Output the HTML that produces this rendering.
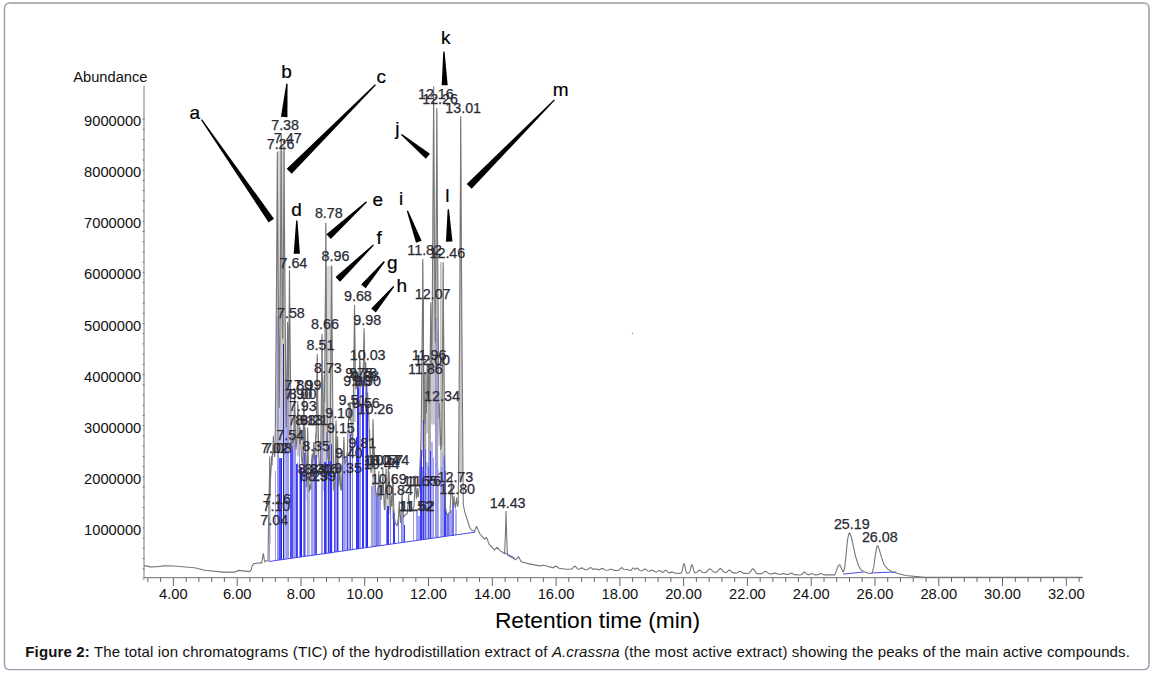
<!DOCTYPE html>
<html><head><meta charset="utf-8"><style>
html,body{margin:0;padding:0;background:#fff;}
svg{display:block}
text{font-family:"Liberation Sans",sans-serif;}
.ax{font-size:14.7px;fill:#111}
.big{font-size:22.8px;fill:#000}
.cap{font-size:15px;fill:#111;letter-spacing:0.135px}
.pl{font-size:14.3px;fill:#2a2a34;stroke:#2a2a34;stroke-width:0.25px}
.lt{font-size:19px;fill:#000;stroke:#000;stroke-width:0.2px}
</style></head><body>
<svg width="1154" height="676" viewBox="0 0 1154 676">
<path d="M9.5,3 H1144 A5,5 0 0 1 1149,8 V664.6" fill="none" stroke="#b3b3b3" stroke-width="2"/>
<path d="M1149,664.6 A5,5 0 0 1 1144,669.6 H9.5 A5,5 0 0 1 4.5,664.6 V8 A5,5 0 0 1 9.5,3" fill="none" stroke="#9a9cab" stroke-width="1.4"/>
<rect x="277.6" y="151" width="6.8" height="170" fill="#d6d6d6"/>
<path d="M268.42,543.4L269.21,460.0L270.21,460.0L271.00,543.4ZM275.41,451.7L276.86,155.0L277.86,155.0L279.32,451.7ZM279.23,450.8L280.69,136.0L281.69,136.0L283.14,450.8ZM282.10,450.2L283.56,149.0L284.56,149.0L286.01,450.2ZM286.14,450.5L287.07,325.0L288.07,325.0L288.99,450.5ZM287.90,450.9L288.98,274.0L289.98,274.0L291.06,450.9ZM293.38,451.9L294.08,396.0L295.08,396.0L295.79,451.9ZM296.58,455.3L297.27,405.0L298.27,405.0L298.96,455.3ZM297.57,456.5L298.23,417.0L299.23,417.0L299.88,456.5ZM302.53,482.5L303.33,396.0L304.33,396.0L305.13,482.5ZM303.89,490.4L304.61,431.0L305.61,431.0L306.32,490.4ZM306.41,500.0L307.16,431.0L308.16,431.0L308.90,500.0ZM315.88,457.3L316.72,357.0L317.72,357.0L318.57,457.3ZM320.53,480.0L321.51,337.0L322.51,337.0L323.49,480.0ZM322.86,491.2L323.74,379.0L324.74,379.0L325.62,491.2ZM323.95,499.2L325.33,225.0L326.33,225.0L327.72,499.2ZM329.88,479.4L331.07,268.0L332.07,268.0L333.27,479.4ZM334.79,494.1L335.54,424.0L336.54,424.0L337.29,494.1ZM336.42,497.3L337.13,440.0L338.13,440.0L338.84,497.3ZM353.15,422.0L354.04,308.0L355.04,308.0L355.92,422.0ZM362.90,387.4L363.60,332.0L364.60,332.0L365.31,387.4ZM371.80,486.8L372.53,423.0L373.53,423.0L374.26,486.8ZM384.95,511.1L385.61,472.0L386.61,472.0L387.26,511.1ZM387.18,513.3L387.84,472.0L388.84,472.0L389.50,513.3ZM421.14,456.7L422.28,263.0L423.28,263.0L424.42,456.7ZM422.82,447.1L423.56,381.0L424.56,381.0L425.29,447.1ZM426.00,433.6L426.74,366.0L427.74,366.0L428.49,433.6ZM427.31,429.9L428.02,372.0L429.02,372.0L429.73,429.9ZM429.35,423.6L430.25,306.0L431.25,306.0L432.15,423.6ZM431.67,424.6L433.12,89.0L434.12,89.0L435.58,424.6ZM434.86,433.7L436.31,111.0L437.31,111.0L438.77,433.7ZM438.21,445.4L438.86,407.0L439.86,407.0L440.51,445.4ZM441.45,491.9L442.69,266.0L443.69,266.0L444.93,491.9ZM458.77,480.2L460.23,119.5L461.23,119.5L462.68,480.2ZM387.97,514.1L388.62,475.1L389.62,475.1L390.28,514.1ZM368.42,469.6L369.06,433.2L370.06,433.2L370.71,469.6ZM428.64,426.3L429.29,387.4L430.29,387.4L430.94,426.3ZM391.73,519.3L392.39,478.6L393.39,478.6L394.05,519.3ZM342.73,476.8L343.37,440.5L344.37,440.5L345.02,476.8ZM373.05,488.8L373.70,452.2L374.70,452.2L375.35,488.8ZM336.57,497.4L337.22,460.7L338.22,460.7L338.86,497.4Z" fill="#c8c8c8"/>
<rect x="423" y="300" width="1" height="239.6" fill="#7a7a7a"/><rect x="423.8" y="372" width="2.4" height="167.5" fill="#a2a2a2"/><rect x="428" y="366" width="3" height="172.9" fill="#aaaaaa"/><rect x="436.6" y="330" width="1.5" height="207.7" fill="#a8a8a8"/><rect x="440.4" y="262" width="1" height="275.1" fill="#9a9a9a"/><rect x="325.4" y="266" width="7.4" height="287.5" fill="#d6d6d6"/>
<g shape-rendering="crispEdges"><rect x="268.8" y="516.9" width="1.0" height="44.6" fill="#9c9ce8"/><rect x="274.5" y="471.0" width="1.5" height="89.7" fill="#9c9ce8"/><rect x="278.0" y="373.6" width="1.0" height="186.6" fill="#a0a0ee"/><rect x="279.0" y="457.8" width="2.0" height="102.3" fill="#5050f8"/><rect x="281.0" y="458.2" width="1.0" height="101.6" fill="#2424e6"/><rect x="283.0" y="387.8" width="1.0" height="171.7" fill="#b4b4f0"/><rect x="284.0" y="382.3" width="2.0" height="177.1" fill="#b4b4f0"/><rect x="286.0" y="377.5" width="2.0" height="181.6" fill="#a0a0ee"/><rect x="290.0" y="442.3" width="1.0" height="116.2" fill="#5050f8"/><rect x="291.0" y="446.1" width="2.0" height="112.2" fill="#5050f8"/><rect x="293.0" y="440.2" width="1.0" height="117.8" fill="#a0a0ee"/><rect x="294.0" y="398.1" width="1.0" height="159.8" fill="#a0a0ee"/><rect x="295.0" y="434.3" width="1.0" height="123.5" fill="#a0a0ee"/><rect x="296.0" y="463.8" width="1.0" height="93.9" fill="#3535ff"/><rect x="297.0" y="463.2" width="1.0" height="94.3" fill="#5050f8"/><rect x="299.0" y="440.7" width="1.0" height="116.6" fill="#9c9ce8"/><rect x="300.0" y="466.5" width="2.0" height="90.6" fill="#2424e6"/><rect x="303.0" y="427.9" width="1.0" height="128.8" fill="#8484e8"/><rect x="304.0" y="453.1" width="1.0" height="103.4" fill="#5050f8"/><rect x="305.0" y="449.6" width="1.0" height="106.8" fill="#a0a0ee"/><rect x="307.0" y="439.2" width="1.0" height="116.9" fill="#a0a0ee"/><rect x="308.0" y="473.8" width="1.0" height="82.1" fill="#b4b4f0"/><rect x="309.0" y="490.7" width="1.0" height="65.1" fill="#b4b4f0"/><rect x="311.0" y="457.6" width="2.0" height="97.9" fill="#9c9ce8"/><rect x="313.0" y="448.1" width="1.0" height="107.1" fill="#b4b4f0"/><rect x="314.0" y="459.3" width="1.0" height="95.8" fill="#8484e8"/><rect x="315.0" y="455.0" width="2.0" height="99.9" fill="#5050f8"/><rect x="321.0" y="440.5" width="1.0" height="113.6" fill="#a0a0ee"/><rect x="322.0" y="430.5" width="1.0" height="123.4" fill="#a0a0ee"/><rect x="324.0" y="461.7" width="2.0" height="92.0" fill="#3535ff"/><rect x="326.0" y="432.0" width="1.0" height="121.3" fill="#8484e8"/><rect x="328.0" y="460.8" width="1.0" height="92.3" fill="#3535ff"/><rect x="329.0" y="456.1" width="1.0" height="96.8" fill="#8484e8"/><rect x="330.0" y="460.9" width="1.0" height="91.9" fill="#3535ff"/><rect x="331.0" y="444.0" width="1.0" height="108.6" fill="#3535ff"/><rect x="334.0" y="491.0" width="1.0" height="61.2" fill="#5050f8"/><rect x="335.0" y="453.2" width="1.0" height="98.9" fill="#8484e8"/><rect x="336.0" y="476.5" width="1.0" height="75.4" fill="#a0a0ee"/><rect x="337.0" y="465.4" width="1.0" height="86.4" fill="#3535ff"/><rect x="338.0" y="477.2" width="1.0" height="74.5" fill="#9c9ce8"/><rect x="339.0" y="479.7" width="0.3" height="71.8" fill="#5050f8"/><rect x="342.4" y="457.4" width="1.0" height="93.6" fill="#4848f8"/><rect x="343.4" y="453.5" width="1.0" height="97.4" fill="#a0a0ee"/><rect x="344.4" y="463.7" width="1.0" height="87.1" fill="#9c9ce8"/><rect x="345.4" y="458.8" width="2.0" height="91.8" fill="#b4b4f0"/><rect x="347.4" y="455.7" width="1.0" height="94.6" fill="#4848f8"/><rect x="348.4" y="462.4" width="0.6" height="87.8" fill="#b4b4f0"/><rect x="349.0" y="428.2" width="1.0" height="121.9" fill="#9c9ce8"/><rect x="350.0" y="434.1" width="1.0" height="115.8" fill="#4848f8"/><rect x="352.0" y="444.1" width="1.0" height="105.6" fill="#8484e8"/><rect x="356.0" y="436.7" width="1.0" height="112.4" fill="#3535ff"/><rect x="357.0" y="384.9" width="2.0" height="164.1" fill="#3030ff"/><rect x="359.0" y="373.4" width="2.0" height="175.3" fill="#9c9ce8"/><rect x="362.0" y="380.1" width="2.0" height="168.2" fill="#3030ff"/><rect x="365.0" y="381.4" width="1.0" height="166.5" fill="#9c9ce8"/><rect x="366.0" y="379.7" width="1.0" height="168.0" fill="#3030ff"/><rect x="367.0" y="405.4" width="0.5" height="142.2" fill="#2424e6"/><rect x="367.5" y="421.8" width="0.8" height="125.6" fill="#b4b4f0"/><rect x="371.4" y="485.9" width="2.0" height="61.0" fill="#9c9ce8"/><rect x="373.4" y="473.7" width="1.0" height="72.9" fill="#b4b4f0"/><rect x="374.4" y="485.2" width="2.0" height="61.3" fill="#9c9ce8"/><rect x="376.4" y="494.9" width="1.0" height="51.3" fill="#7070ea"/><rect x="377.4" y="487.5" width="2.0" height="58.6" fill="#8484e8"/><rect x="379.4" y="484.0" width="1.0" height="61.8" fill="#9c9ce8"/><rect x="380.4" y="492.2" width="0.3" height="53.4" fill="#9c9ce8"/><rect x="385.5" y="510.8" width="1.0" height="34.2" fill="#8484e8"/><rect x="386.5" y="506.1" width="2.0" height="38.7" fill="#3535ff"/><rect x="389.5" y="501.4" width="1.0" height="42.9" fill="#8484e8"/><rect x="392.5" y="509.6" width="1.0" height="34.3" fill="#3535ff"/><rect x="393.5" y="512.5" width="1.0" height="31.3" fill="#3535ff"/><rect x="395.5" y="523.8" width="0.8" height="19.7" fill="#4848f8"/><rect x="398.0" y="519.4" width="1.0" height="23.7" fill="#8484e8"/><rect x="400.5" y="516.2" width="1.0" height="26.6" fill="#8484e8"/><rect x="401.5" y="509.0" width="2.0" height="33.7" fill="#a0a0ee"/><rect x="403.5" y="525.1" width="1.0" height="17.3" fill="#3535ff"/><rect x="413.0" y="507.5" width="1.0" height="33.5" fill="#9c9ce8"/><rect x="416.0" y="511.2" width="2.0" height="29.4" fill="#a0a0ee"/><rect x="418.0" y="515.8" width="2.0" height="24.5" fill="#a0a0ee"/><rect x="420.0" y="450.4" width="2.0" height="89.6" fill="#3a3af8"/><rect x="422.0" y="466.7" width="1.0" height="73.1" fill="#8080e8"/><rect x="423.0" y="455.4" width="1.0" height="84.2" fill="#b4b4f0"/><rect x="424.0" y="468.5" width="1.0" height="71.0" fill="#a0a0ee"/><rect x="425.0" y="448.9" width="1.0" height="90.4" fill="#5a5af0"/><rect x="426.0" y="462.0" width="2.0" height="77.2" fill="#b4b4f0"/><rect x="428.0" y="465.5" width="1.0" height="73.4" fill="#5a5af0"/><rect x="429.0" y="449.4" width="1.0" height="89.3" fill="#9c9ce8"/><rect x="430.0" y="450.7" width="1.0" height="88.0" fill="#3a3af8"/><rect x="431.0" y="442.3" width="2.0" height="96.2" fill="#b4b4f0"/><rect x="433.0" y="458.2" width="1.0" height="80.0" fill="#9c9ce8"/><rect x="434.0" y="458.3" width="0.4" height="79.8" fill="#b4b4f0"/><rect x="436.5" y="459.9" width="1.0" height="77.8" fill="#9a9ad8"/><rect x="437.5" y="469.9" width="1.0" height="67.6" fill="#b4b4f0"/><rect x="439.5" y="468.4" width="1.0" height="68.8" fill="#b4b4f0"/><rect x="440.5" y="466.9" width="1.0" height="70.2" fill="#9c9ce8"/><rect x="441.5" y="451.8" width="1.0" height="85.2" fill="#a0a0ee"/><rect x="442.5" y="456.9" width="1.0" height="79.9" fill="#a0a0ee"/><rect x="443.5" y="454.8" width="1.0" height="81.9" fill="#3a3af8"/><rect x="444.5" y="470.7" width="1.0" height="65.8" fill="#3a3af8"/><rect x="445.5" y="508.8" width="0.5" height="27.7" fill="#b4b4f0"/><rect x="446.0" y="512.5" width="1.0" height="23.8" fill="#a0a0ee"/><rect x="447.0" y="514.0" width="2.0" height="22.2" fill="#7070ea"/><rect x="449.0" y="512.8" width="0.5" height="23.2" fill="#a0a0ee"/><rect x="449.5" y="510.0" width="2.0" height="25.8" fill="#a0a0ee"/><rect x="451.5" y="502.1" width="2.0" height="33.5" fill="#7070ea"/><rect x="454.5" y="506.9" width="1.0" height="28.2" fill="#b4b4f0"/><rect x="455.5" y="510.4" width="1.0" height="24.5" fill="#b4b4f0"/><rect x="276.8" y="317.0" width="2.6" height="243.4" fill="#9a9ae6"/><rect x="283.0" y="344.0" width="1.0" height="215.5" fill="#2a2aa0"/><rect x="287.8" y="326.0" width="1.3" height="232.8" fill="#9a9ae6"/><rect x="435.2" y="318.0" width="1.4" height="219.9" fill="#9a9ae6"/><rect x="422.6" y="420.0" width="1.0" height="119.7" fill="#3a3ae0"/></g>
<line x1="268.8" y1="561.5" x2="475.5" y2="532.1" stroke="#4a4af0" stroke-width="1"/>
<path d="M504,552.5 L514.6,558 M843.2,574.1 L863.5,572 M871.3,572.9 L896.3,572" stroke="#4a4af0" stroke-width="1" fill="none"/>
<line x1="144" y1="86" x2="144" y2="578" stroke="#9a9a9a" stroke-width="1.3"/>
<path d="M144.6 579.0h-2 M144.6 568.8h-2 M144.6 558.6h-2 M144.6 548.3h-2 M144.6 538.1h-2 M144.6 527.9h-2 M144.6 517.7h-2 M144.6 507.5h-2 M144.6 497.2h-2 M144.6 487.0h-2 M144.6 476.8h-2 M144.6 466.6h-2 M144.6 456.4h-2 M144.6 446.1h-2 M144.6 435.9h-2 M144.6 425.7h-2 M144.6 415.5h-2 M144.6 405.3h-2 M144.6 395.0h-2 M144.6 384.8h-2 M144.6 374.6h-2 M144.6 364.4h-2 M144.6 354.2h-2 M144.6 343.9h-2 M144.6 333.7h-2 M144.6 323.5h-2 M144.6 313.3h-2 M144.6 303.1h-2 M144.6 292.8h-2 M144.6 282.6h-2 M144.6 272.4h-2 M144.6 262.2h-2 M144.6 252.0h-2 M144.6 241.7h-2 M144.6 231.5h-2 M144.6 221.3h-2 M144.6 211.1h-2 M144.6 200.9h-2 M144.6 190.6h-2 M144.6 180.4h-2 M144.6 170.2h-2 M144.6 160.0h-2 M144.6 149.8h-2 M144.6 139.5h-2 M144.6 129.3h-2 M144.6 119.1h-2" stroke="#777" stroke-width="1"/>
<text x="141.3" y="534.9" text-anchor="end" class="ax">1000000</text>
<text x="141.3" y="483.8" text-anchor="end" class="ax">2000000</text>
<text x="141.3" y="432.7" text-anchor="end" class="ax">3000000</text>
<text x="141.3" y="381.6" text-anchor="end" class="ax">4000000</text>
<text x="141.3" y="330.5" text-anchor="end" class="ax">5000000</text>
<text x="141.3" y="279.4" text-anchor="end" class="ax">6000000</text>
<text x="141.3" y="228.3" text-anchor="end" class="ax">7000000</text>
<text x="141.3" y="177.2" text-anchor="end" class="ax">8000000</text>
<text x="141.3" y="126.1" text-anchor="end" class="ax">9000000</text>
<text x="73.2" y="82.2" class="ax">Abundance</text>
<line x1="144" y1="577.6" x2="1083" y2="577.6" stroke="#8a8a8a" stroke-width="1.4"/>
<path d="M147.9 578v4 M160.6 578v4 M173.4 578v8 M186.2 578v4 M198.9 578v4 M211.7 578v4 M224.4 578v4 M237.2 578v8 M249.9 578v4 M262.7 578v4 M275.4 578v4 M288.2 578v4 M301.0 578v8 M313.7 578v4 M326.5 578v4 M339.2 578v4 M352.0 578v4 M364.7 578v8 M377.5 578v4 M390.3 578v4 M403.0 578v4 M415.8 578v4 M428.5 578v8 M441.3 578v4 M454.0 578v4 M466.8 578v4 M479.5 578v4 M492.3 578v8 M505.1 578v4 M517.8 578v4 M530.6 578v4 M543.3 578v4 M556.1 578v8 M568.8 578v4 M581.6 578v4 M594.3 578v4 M607.1 578v4 M619.9 578v8 M632.6 578v4 M645.4 578v4 M658.1 578v4 M670.9 578v4 M683.6 578v8 M696.4 578v4 M709.2 578v4 M721.9 578v4 M734.7 578v4 M747.4 578v8 M760.2 578v4 M772.9 578v4 M785.7 578v4 M798.4 578v4 M811.2 578v8 M824.0 578v4 M836.7 578v4 M849.5 578v4 M862.2 578v4 M875.0 578v8 M887.7 578v4 M900.5 578v4 M913.2 578v4 M926.0 578v4 M938.8 578v8 M951.5 578v4 M964.3 578v4 M977.0 578v4 M989.8 578v4 M1002.5 578v8 M1015.3 578v4 M1028.1 578v4 M1040.8 578v4 M1053.6 578v4 M1066.3 578v8 M1079.1 578v4" stroke="#666" stroke-width="1"/>
<text x="173.4" y="599.3" text-anchor="middle" class="ax">4.00</text>
<text x="237.2" y="599.3" text-anchor="middle" class="ax">6.00</text>
<text x="301.0" y="599.3" text-anchor="middle" class="ax">8.00</text>
<text x="364.7" y="599.3" text-anchor="middle" class="ax">10.00</text>
<text x="428.5" y="599.3" text-anchor="middle" class="ax">12.00</text>
<text x="492.3" y="599.3" text-anchor="middle" class="ax">14.00</text>
<text x="556.1" y="599.3" text-anchor="middle" class="ax">16.00</text>
<text x="619.9" y="599.3" text-anchor="middle" class="ax">18.00</text>
<text x="683.6" y="599.3" text-anchor="middle" class="ax">20.00</text>
<text x="747.4" y="599.3" text-anchor="middle" class="ax">22.00</text>
<text x="811.2" y="599.3" text-anchor="middle" class="ax">24.00</text>
<text x="875.0" y="599.3" text-anchor="middle" class="ax">26.00</text>
<text x="938.8" y="599.3" text-anchor="middle" class="ax">28.00</text>
<text x="1002.5" y="599.3" text-anchor="middle" class="ax">30.00</text>
<text x="1066.3" y="599.3" text-anchor="middle" class="ax">32.00</text>
<text x="597.5" y="628" text-anchor="middle" class="big">Retention time (min)</text>
<path d="M144.00,565.6 150.50,566.9 157.00,566.8 163.50,565.9 174.00,566.0 194.50,567.8 205.00,570.2 223.00,572.1 234.75,572.1 238.75,570.4 249.75,571.6 251.00,570.2 251.25,569.6 252.00,565.9 253.75,563.8 261.00,562.6 261.50,563.5 261.75,562.7 263.25,553.3 263.50,554.4 264.25,559.6 265.00,561.8 266.25,560.8 268.00,560.8 268.25,540.5 268.75,516.4 269.00,503.4 269.25,489.5 269.50,473.8 269.71,456.5 269.85,469.1 270.00,479.4 270.25,494.3 270.35,481.0 271.00,470.1 271.25,465.3 271.50,459.8 271.62,456.1 271.75,460.0 272.00,465.5 272.26,458.1 272.75,449.9 273.00,445.2 273.25,439.8 273.39,435.8 273.50,439.2 273.75,444.7 274.25,453.8 274.50,457.0 274.75,456.2 275.00,451.3 275.25,431.8 275.50,404.9 275.75,377.2 276.00,348.7 276.25,319.1 276.57,279.1 276.75,255.2 277.00,219.4 277.25,177.7 277.36,151.8 277.50,182.8 277.75,223.5 278.00,258.9 278.25,291.5 278.50,322.3 278.75,351.8 279.00,380.3 279.25,407.8 279.50,381.0 279.75,351.0 280.00,320.0 280.35,274.2 280.50,253.4 280.75,216.6 281.00,175.0 281.19,133.0 281.25,149.7 281.50,196.5 281.75,235.2 282.00,270.6 282.25,303.8 282.50,335.5 282.75,339.3 283.00,309.0 283.25,277.2 283.50,243.3 283.75,206.1 284.00,161.1 284.06,146.0 284.25,186.8 284.50,226.5 284.75,261.7 285.00,294.4 285.25,325.4 285.50,355.0 285.75,383.7 286.00,411.5 286.25,427.8 286.50,411.2 286.75,393.9 287.00,375.4 287.25,355.1 287.50,330.8 287.57,322.0 287.75,343.1 288.00,364.9 288.25,384.3 288.50,378.2 288.75,355.4 289.00,331.1 289.25,303.9 289.48,270.2 289.50,274.9 289.75,308.6 290.00,335.2 290.25,359.2 290.50,381.7 290.75,403.2 291.00,423.7 291.25,443.6 291.50,451.3 292.00,446.1 292.50,439.9 292.76,435.4 293.00,439.6 293.25,443.0 293.50,440.2 294.00,421.4 294.25,410.7 294.50,398.1 294.58,392.3 294.75,402.9 295.00,414.5 295.25,424.8 295.75,443.3 296.00,449.2 296.50,444.2 296.67,441.7 296.75,443.0 297.00,434.7 297.25,425.6 297.50,415.6 297.75,402.9 297.77,401.2 298.00,413.8 298.25,424.0 298.50,423.4 298.73,413.3 299.00,425.0 299.25,433.2 299.50,440.7 299.75,443.9 300.00,437.7 300.25,430.2 300.32,427.2 300.50,433.6 300.75,440.4 301.25,451.9 301.50,457.2 302.25,464.1 302.50,464.3 302.75,460.3 303.00,447.4 303.25,433.6 303.50,418.5 303.75,400.5 303.83,392.0 304.00,407.6 304.25,424.1 304.50,438.7 304.75,447.8 305.00,434.9 305.11,427.6 305.25,437.1 305.50,449.6 305.75,460.5 306.25,480.0 306.50,487.3 306.75,476.6 307.00,465.4 307.25,453.1 307.50,439.2 307.66,427.5 307.75,435.0 308.00,449.8 308.25,462.3 308.50,473.8 308.75,481.4 309.00,487.1 309.25,492.0 309.50,490.7 310.00,486.5 310.21,484.1 310.50,487.3 310.75,489.4 311.00,475.2 311.50,467.2 311.75,462.8 312.00,457.6 312.12,454.1 312.25,457.7 312.50,462.9 312.75,462.4 313.25,453.4 313.50,448.1 313.72,442.1 314.00,449.6 314.50,459.3 314.75,456.5 315.25,446.5 315.63,437.5 315.78,432.7 316.00,437.9 316.25,423.8 316.50,408.8 316.75,392.8 317.00,374.8 317.22,353.9 317.50,378.8 317.75,396.2 318.00,412.0 318.25,426.8 318.75,454.3 319.00,461.2 320.25,469.1 320.50,464.1 320.75,446.4 321.00,428.0 321.25,408.6 321.50,387.9 321.75,364.9 322.01,333.8 322.25,363.4 322.50,386.6 322.75,407.4 323.00,426.9 323.25,445.4 323.50,436.9 323.75,419.5 324.00,400.1 324.24,375.1 324.25,377.0 324.50,401.8 324.75,377.8 325.00,348.1 325.25,316.6 325.50,282.2 325.75,241.3 325.83,222.8 326.00,255.9 326.25,293.8 326.50,327.1 326.75,358.0 327.00,387.2 327.25,415.1 327.50,442.1 327.75,459.0 328.00,450.7 328.09,446.5 328.25,452.9 328.50,460.8 328.75,458.6 329.00,452.5 329.18,446.6 329.25,449.4 329.50,456.1 329.75,461.8 330.00,442.6 330.25,419.6 330.50,395.6 330.75,370.5 331.03,340.4 331.25,314.5 331.50,279.5 331.57,265.6 331.75,294.9 332.00,326.7 332.25,354.8 332.50,380.8 332.75,405.4 333.00,429.0 333.25,451.8 333.50,473.9 333.75,489.5 334.50,491.0 334.75,486.6 335.25,465.0 335.50,453.2 335.75,440.1 336.00,424.1 336.04,420.2 336.25,435.7 336.50,449.3 336.75,461.4 337.00,468.0 337.25,457.4 337.50,445.2 337.63,436.5 337.75,444.3 338.00,456.7 338.25,467.3 338.75,486.4 339.00,482.8 339.25,477.6 339.50,471.8 339.72,465.0 340.00,473.1 340.50,483.8 340.75,488.6 341.00,490.5 341.50,489.2 341.75,479.0 342.25,468.2 342.50,462.2 342.75,455.3 342.89,450.2 343.00,454.5 343.25,458.3 343.50,451.0 343.75,442.5 343.87,436.9 344.01,442.9 344.25,451.0 344.50,458.3 344.75,464.1 345.61,461.0 346.00,462.0 347.50,450.0 347.75,437.9 348.25,426.6 348.75,413.7 349.00,405.7 349.07,402.4 349.25,409.3 349.50,416.6 349.75,420.5 350.00,413.2 350.25,404.3 350.30,401.9 350.50,410.2 350.71,411.1 350.75,412.9 351.00,420.0 351.50,431.0 352.00,440.7 352.25,443.7 352.75,444.6 353.00,416.3 353.50,385.9 353.75,369.7 354.00,352.3 354.25,333.2 354.54,305.1 354.75,327.3 355.00,347.2 355.25,364.9 355.50,381.5 355.75,385.2 355.78,384.3 356.00,388.8 356.25,389.0 356.50,385.7 356.77,381.1 357.00,385.2 357.25,387.0 357.50,384.3 357.72,381.1 358.00,384.9 358.36,388.6 358.75,381.0 359.25,370.0 359.50,363.7 359.78,354.5 360.00,361.8 360.25,368.3 361.00,384.7 361.25,386.4 362.00,386.5 362.50,386.8 362.75,385.2 363.25,367.5 363.50,357.9 363.75,347.5 364.00,335.2 364.10,328.3 364.25,337.7 364.50,349.5 364.75,359.7 365.00,369.2 365.25,373.1 365.50,367.7 365.70,362.2 366.02,370.5 366.50,379.7 366.97,387.6 367.00,400.0 367.25,405.4 367.50,399.1 367.70,392.5 368.00,401.5 368.50,412.8 369.00,422.7 369.25,441.7 369.50,432.6 369.56,429.3 369.75,437.6 370.00,445.6 370.50,459.4 370.75,465.7 371.00,472.8 371.25,468.7 371.61,461.2 371.75,464.7 372.00,469.4 372.25,460.4 372.50,449.4 372.75,437.3 373.00,422.2 373.03,419.3 373.25,433.9 373.50,446.5 373.75,457.7 373.88,461.0 374.00,457.0 374.20,448.2 374.25,451.1 374.50,460.4 374.75,468.0 375.25,481.5 375.50,487.7 375.75,491.6 377.50,496.9 377.75,495.6 378.25,485.4 378.50,479.5 378.77,471.1 379.00,478.4 379.25,484.4 379.50,481.0 379.75,486.9 380.03,480.3 380.25,486.2 380.75,495.8 381.00,500.0 381.25,498.1 381.50,494.6 381.79,489.2 382.00,493.2 382.25,490.8 382.50,483.6 382.75,475.5 382.92,468.3 383.00,472.3 383.25,481.0 383.50,488.4 384.00,501.5 384.25,507.6 384.50,509.5 384.75,509.8 385.00,504.6 385.50,490.6 385.75,482.8 386.00,473.6 386.11,468.4 386.25,475.1 386.50,484.0 386.75,487.3 387.00,493.8 387.25,498.7 387.50,498.7 387.75,491.1 388.00,482.9 388.25,473.1 388.34,468.2 388.50,476.2 388.75,485.4 389.00,477.4 389.12,471.4 389.25,477.5 389.50,486.5 389.75,494.3 390.25,508.2 390.50,510.4 391.00,502.4 391.25,497.3 391.32,495.2 391.50,498.9 391.53,498.1 391.75,502.8 392.00,506.4 392.25,499.1 392.50,491.1 392.75,481.9 392.89,474.8 393.00,480.5 393.25,490.0 393.75,505.5 394.00,512.5 394.25,516.0 394.75,519.7 395.00,522.5 397.25,525.9 398.00,520.7 398.45,516.3 398.50,516.6 399.00,507.6 399.26,501.2 399.50,507.3 400.00,516.4 400.25,520.4 400.50,522.7 400.75,522.3 401.00,516.2 401.50,506.2 401.75,500.6 402.00,494.0 402.11,490.1 402.25,495.0 402.50,501.4 403.00,512.0 403.25,516.8 403.50,517.6 405.00,515.0 407.25,513.4 407.75,507.8 408.25,501.0 408.50,497.0 408.64,493.9 408.75,496.3 409.00,500.5 409.50,507.4 409.75,510.5 410.00,511.4 412.00,510.0 412.25,508.8 412.50,509.2 414.00,506.7 414.25,500.9 414.75,491.1 415.00,485.7 415.25,479.3 415.36,475.4 415.50,480.0 415.75,486.2 416.25,496.6 416.40,498.6 417.00,492.8 417.36,488.1 417.50,490.3 418.00,495.7 418.25,497.5 419.50,485.0 419.75,469.3 420.25,458.6 420.75,446.4 421.00,438.7 421.07,435.9 421.25,423.5 421.50,401.6 421.75,378.8 422.00,354.9 422.25,329.4 422.50,301.3 422.75,266.0 422.78,259.1 423.00,293.9 423.25,323.0 423.50,349.0 423.75,373.3 424.00,382.1 424.06,377.7 424.25,391.0 424.50,404.1 424.75,415.7 425.00,424.8 425.25,418.1 425.50,410.7 425.75,401.9 425.83,397.8 426.00,405.3 426.25,413.4 426.34,410.7 426.75,392.1 427.00,379.1 427.24,362.7 427.50,379.7 427.75,392.6 428.00,395.6 428.25,384.3 428.50,370.0 428.52,368.0 428.75,382.4 429.00,393.9 429.25,403.9 429.50,395.8 429.75,383.8 430.00,367.0 430.25,349.0 430.50,329.1 430.75,302.6 431.00,328.7 431.25,348.7 431.50,366.7 431.75,373.1 432.00,341.9 432.25,309.7 432.50,276.3 432.75,241.4 433.00,204.4 433.25,164.1 433.33,150.2 433.50,117.5 433.62,86.4 433.75,118.6 434.00,165.0 434.25,205.2 434.50,242.1 434.75,277.0 435.00,310.4 435.25,342.6 435.50,315.5 435.75,283.0 436.00,249.0 436.25,212.7 436.50,173.0 436.58,159.0 436.75,125.0 436.81,107.9 437.00,151.2 437.25,193.8 437.50,231.5 437.75,266.5 438.00,299.7 438.25,331.5 438.50,362.2 438.75,392.0 439.00,417.8 439.25,408.8 439.36,403.3 439.50,409.8 439.75,418.6 440.25,433.2 440.50,439.9 440.75,450.1 441.00,442.6 441.19,435.3 441.25,438.2 441.50,446.6 441.75,435.7 442.00,411.1 442.25,385.5 442.50,358.4 442.75,329.2 443.00,296.3 443.19,262.3 443.25,275.8 443.50,312.9 443.75,343.7 444.00,371.7 444.25,398.1 444.50,423.2 444.75,447.3 445.00,470.7 445.25,506.2 447.00,515.0 450.00,512.0 450.50,502.0 451.00,490.3 451.25,483.5 451.44,476.9 451.50,479.5 451.75,486.8 451.80,485.0 452.00,490.5 452.25,495.6 452.32,495.4 452.50,498.2 453.00,503.6 453.25,505.2 453.75,500.1 454.03,496.1 454.25,499.3 454.75,504.6 455.00,506.9 455.25,507.7 455.75,503.6 455.87,502.2 456.00,503.7 456.25,502.1 456.62,497.6 457.00,502.3 457.50,506.8 458.00,505.0 458.25,502.5 458.50,471.1 458.75,438.8 459.00,405.7 459.25,371.6 459.50,336.4 459.75,299.6 460.00,260.9 460.25,219.4 460.50,173.1 460.73,116.3 460.75,124.0 461.00,181.4 461.25,226.7 461.50,267.6 461.75,305.9 462.00,342.4 462.25,377.5 462.50,411.4 462.75,444.3 463.00,476.5 463.25,504.3 464.75,511.9 469.50,526.7 471.25,529.9 474.50,531.3 476.50,526.3 480.00,534.0 484.50,539.2 486.50,537.4 489.25,544.5 494.50,549.9 497.25,547.4 500.00,550.6 504.50,553.5 504.75,551.8 505.25,538.1 505.50,530.6 505.75,522.3 506.01,510.9 506.25,521.4 506.50,529.8 507.00,544.4 507.25,551.1 507.50,555.0 515.75,559.8 518.50,556.7 521.25,561.8 529.25,563.9 539.75,565.9 543.75,565.2 553.00,567.8 555.50,566.2 556.75,566.5 559.00,568.2 566.50,569.2 570.75,569.3 572.25,568.7 574.25,566.4 575.25,566.2 577.50,568.9 578.75,569.4 581.50,567.9 582.75,568.1 585.00,569.7 587.00,569.8 588.75,568.8 590.25,567.6 591.50,568.1 593.00,569.3 596.00,568.7 598.75,569.8 600.25,569.4 601.75,568.4 603.00,568.6 605.00,570.0 607.75,570.3 611.00,569.0 614.50,570.4 617.75,570.5 619.25,569.8 621.00,568.0 622.00,567.7 624.00,569.6 625.25,569.8 627.00,569.3 629.75,570.5 631.00,570.4 633.00,568.0 633.75,568.0 635.00,569.2 635.75,569.2 637.00,568.0 637.75,568.2 639.50,570.4 641.25,571.0 642.75,570.4 644.50,569.0 645.50,569.1 647.75,571.1 649.25,571.3 651.50,570.1 652.75,570.3 654.75,571.8 656.50,572.0 659.00,570.6 660.25,571.0 662.00,572.3 663.25,572.2 665.25,570.3 666.25,570.2 668.25,572.4 669.50,572.8 671.75,571.9 675.25,573.3 680.25,573.4 681.25,573.0 682.00,571.6 682.75,568.2 683.50,564.4 684.00,563.4 684.50,564.4 685.75,570.6 686.25,572.2 687.00,573.1 688.50,573.2 689.25,572.6 690.00,570.9 691.25,565.9 691.75,564.8 692.25,565.1 693.00,567.6 693.75,570.6 694.50,572.3 695.50,573.0 697.00,572.4 699.00,570.3 700.00,570.1 702.25,572.3 704.25,572.8 706.25,572.2 709.00,569.3 710.25,568.8 713.50,571.8 715.25,572.4 716.75,572.1 719.50,569.0 720.50,568.5 721.75,569.5 723.50,571.7 725.25,572.5 726.75,572.2 729.00,570.0 730.00,570.0 732.25,572.4 735.25,573.1 737.25,572.8 739.50,571.3 740.75,571.5 743.00,573.1 747.50,573.5 749.25,573.0 750.75,571.2 752.00,569.3 753.00,568.7 754.00,569.6 755.75,572.4 757.25,573.6 760.75,573.9 762.50,573.3 764.50,571.5 765.75,571.4 768.75,573.6 771.25,574.2 774.75,572.9 778.25,574.3 780.75,574.3 783.25,573.4 786.75,574.5 788.50,574.4 790.75,573.0 792.00,573.2 794.25,574.6 800.00,575.0 801.75,574.4 803.75,572.3 804.75,572.1 807.00,574.3 808.50,574.8 811.75,573.5 815.25,574.9 818.00,574.8 820.50,573.6 822.00,573.8 824.25,574.9 834.75,574.9 838.25,565.9 839.75,564.8 841.75,568.9 843.00,571.9 843.25,572.3 844.50,568.6 844.75,567.0 846.00,555.8 847.25,542.1 847.50,540.0 848.75,533.8 849.75,533.0 851.50,537.7 855.50,556.3 858.50,565.5 861.00,569.9 865.25,572.3 869.50,573.5 872.25,573.1 874.00,565.5 875.25,555.6 876.75,547.1 877.75,545.9 879.25,549.4 881.25,556.7 884.00,564.5 887.50,568.9 891.75,571.7 905.50,575.5 924.75,577.4 1082.50,577.4" fill="none" stroke="#767676" stroke-width="1.1" stroke-linejoin="miter" stroke-miterlimit="2"/>
<rect x="631.9" y="332.8" width="1.1" height="1.1" fill="#777"/>
<text x="271.2" y="130.0" class="pl">7.38</text>
<text x="273.8" y="142.5" class="pl">7.47</text>
<text x="266.7" y="149.2" class="pl">7.26</text>
<text x="279.5" y="267.7" class="pl">7.64</text>
<text x="277.0" y="318.1" class="pl">7.58</text>
<text x="314.9" y="217.7" class="pl">8.78</text>
<text x="321.6" y="261.0" class="pl">8.96</text>
<text x="311.1" y="329.2" class="pl">8.66</text>
<text x="306.6" y="349.5" class="pl">8.51</text>
<text x="314.0" y="372.8" class="pl">8.73</text>
<text x="344.0" y="300.8" class="pl">9.68</text>
<text x="353.3" y="324.9" class="pl">9.98</text>
<text x="349.8" y="359.7" class="pl">10.03</text>
<text x="407.3" y="255.4" class="pl">11.82</text>
<text x="429.5" y="257.7" class="pl">12.46</text>
<text x="418.0" y="99.4" class="pl">12.16</text>
<text x="422.2" y="103.5" class="pl">12.26</text>
<text x="445.3" y="113.0" class="pl">13.01</text>
<text x="414.8" y="298.8" class="pl">12.07</text>
<text x="411.7" y="359.7" class="pl">11.96</text>
<text x="414.3" y="365.0" class="pl">12.00</text>
<text x="408.1" y="373.9" class="pl">11.86</text>
<text x="424.1" y="400.6" class="pl">12.34</text>
<text x="284.4" y="389.6" class="pl">7.80</text>
<text x="293.7" y="389.6" class="pl">7.99</text>
<text x="284.4" y="398.8" class="pl">7.90</text>
<text x="288.7" y="398.8" class="pl">8.00</text>
<text x="288.8" y="410.9" class="pl">7.93</text>
<text x="287.9" y="424.6" class="pl">7.98</text>
<text x="295.2" y="424.6" class="pl">8.13</text>
<text x="300.2" y="424.6" class="pl">8.21</text>
<text x="325.2" y="417.5" class="pl">9.10</text>
<text x="327.0" y="433.4" class="pl">9.15</text>
<text x="338.6" y="405.0" class="pl">9.51</text>
<text x="352.0" y="408.4" class="pl">9.56</text>
<text x="357.5" y="413.9" class="pl">10.26</text>
<text x="345.2" y="378.4" class="pl">9.75</text>
<text x="349.2" y="378.4" class="pl">9.78</text>
<text x="343.2" y="386.4" class="pl">9.80</text>
<text x="351.2" y="381.4" class="pl">9.88</text>
<text x="353.2" y="386.4" class="pl">9.90</text>
<text x="276.4" y="439.7" class="pl">7.54</text>
<text x="261.0" y="453.0" class="pl">7.02</text>
<text x="264.0" y="453.0" class="pl">7.08</text>
<text x="302.2" y="451.2" class="pl">8.35</text>
<text x="348.4" y="447.6" class="pl">9.81</text>
<text x="335.0" y="458.3" class="pl">9.40</text>
<text x="334.2" y="472.5" class="pl">9.35</text>
<text x="297.7" y="474.4" class="pl">8.24</text>
<text x="304.2" y="474.4" class="pl">8.30</text>
<text x="310.2" y="474.4" class="pl">8.46</text>
<text x="300.2" y="481.4" class="pl">8.29</text>
<text x="308.2" y="481.4" class="pl">8.39</text>
<text x="363.8" y="465.3" class="pl">10.04</text>
<text x="367.5" y="465.3" class="pl">10.57</text>
<text x="373.5" y="465.3" class="pl">10.74</text>
<text x="363.8" y="468.8" class="pl">10.44</text>
<text x="370.9" y="483.9" class="pl">10.69</text>
<text x="377.1" y="495.4" class="pl">10.84</text>
<text x="402.9" y="485.7" class="pl">11.65</text>
<text x="406.5" y="485.7" class="pl">11.76</text>
<text x="398.5" y="510.6" class="pl">11.52</text>
<text x="400.0" y="510.6" class="pl">11.62</text>
<text x="437.5" y="482.1" class="pl">12.73</text>
<text x="439.3" y="493.7" class="pl">12.80</text>
<text x="263.2" y="504.0" class="pl">7.16</text>
<text x="262.5" y="511.1" class="pl">7.10</text>
<text x="260.3" y="525.4" class="pl">7.04</text>
<text x="489.8" y="507.7" class="pl">14.43</text>
<text x="833.9" y="529.3" class="pl">25.19</text>
<text x="861.9" y="541.7" class="pl">26.08</text>
<polygon points="200.97,119.97 268.63,222.45 273.97,218.75 202.03,119.23" fill="#000"/>
<polygon points="286.25,83.75 280.96,116.64 287.44,117.16 287.55,83.85" fill="#000"/>
<polygon points="374.94,84.34 286.72,168.83 291.68,173.77 375.86,85.26" fill="#000"/>
<polygon points="296.15,220.50 293.70,253.70 299.90,253.70 297.45,220.50" fill="#000"/>
<polygon points="366.16,201.22 326.40,234.21 330.80,238.99 367.04,202.18" fill="#000"/>
<polygon points="373.05,244.43 335.54,277.06 340.06,281.74 373.95,245.37" fill="#000"/>
<polygon points="383.90,261.08 361.11,284.47 365.69,288.33 384.90,261.92" fill="#000"/>
<polygon points="393.30,285.98 371.21,308.57 375.79,312.43 394.30,286.82" fill="#000"/>
<polygon points="406.79,210.92 415.98,242.74 421.62,240.66 408.01,210.48" fill="#000"/>
<polygon points="401.08,134.90 425.82,158.80 429.98,153.80 401.92,133.90" fill="#000"/>
<polygon points="443.25,51.42 441.70,85.27 447.70,85.13 444.55,51.38" fill="#000"/>
<polygon points="447.65,209.22 445.95,241.79 452.45,241.61 448.95,209.18" fill="#000"/>
<polygon points="553.94,99.44 466.71,183.94 471.69,188.86 554.86,100.36" fill="#000"/>
<text x="189.4" y="119.0" class="lt">a</text>
<text x="281.3" y="77.7" class="lt">b</text>
<text x="376.4" y="83.3" class="lt">c</text>
<text x="291.2" y="215.8" class="lt">d</text>
<text x="372.4" y="205.6" class="lt">e</text>
<text x="376.5" y="243.5" class="lt">f</text>
<text x="387.1" y="268.5" class="lt">g</text>
<text x="396.5" y="291.9" class="lt">h</text>
<text x="399.1" y="205.3" class="lt">i</text>
<text x="395.2" y="135.2" class="lt">j</text>
<text x="441.0" y="44.0" class="lt">k</text>
<text x="445.3" y="201.5" class="lt">l</text>
<text x="552.8" y="95.9" class="lt">m</text>
<text x="25.3" y="657" class="cap"><tspan font-weight="bold">Figure 2:</tspan> The total ion chromatograms (TIC) of the hydrodistillation extract of <tspan font-style="italic">A.crassna</tspan> (the most active extract) showing the peaks of the main active compounds.</text>
</svg>
</body></html>
